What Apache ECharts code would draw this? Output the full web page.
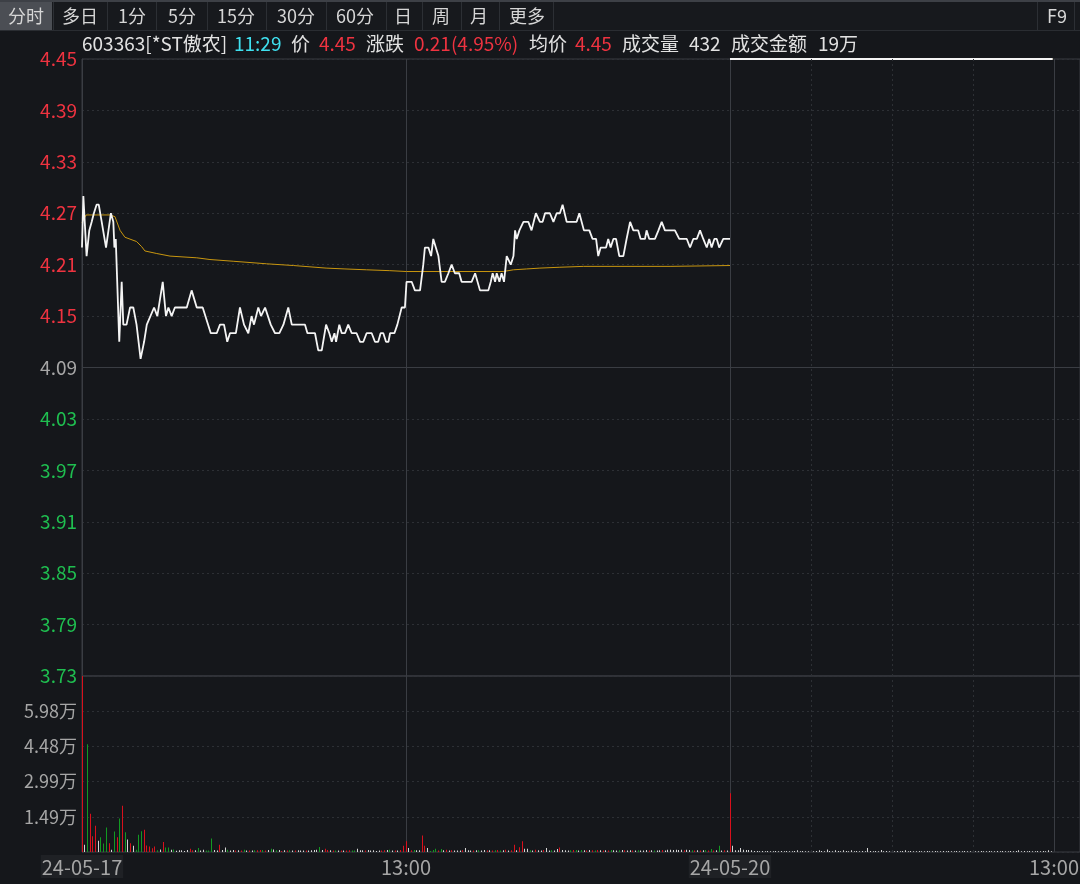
<!DOCTYPE html>
<html><head><meta charset="utf-8">
<script src="https://cdn.jsdelivr.net/npm/echarts@6/dist/echarts.min.js"></script>
<style>html,body{margin:0;padding:0;background:#15171b;}#c{width:1080px;height:884px;}</style>
</head><body><div id="c"></div><script>
// ---------- DATA ----------
const prevClose = 4.09;
const xTickLabels = ['24-05-17', '13:00', '24-05-20', '13:00'];
const volTickLabels = ['1.49万', '2.99万', '4.48万', '5.98万'];
const tabs = ['分时', '多日', '1分', '5分', '15分', '30分', '60分', '日', '周', '月', '更多'];

// day 1 price: [minute index, price]
const day1Price = [
 [0,4.23],[0.5,4.29],[1.2,4.29],[1.7,4.22],[2.2,4.22],[2.7,4.25],[3.6,4.26],[4.4,4.27],[5.4,4.28],[6.2,4.28],
 [7.3,4.26],[8.9,4.23],[9.8,4.25],[10.7,4.27],[11.6,4.26],[12,4.23],[12.5,4.24],[13.8,4.12],[14.3,4.12],[14.7,4.19],
 [15.3,4.14],[16.5,4.14],[17.8,4.16],[19,4.16],[20.2,4.14],[21.7,4.10],[23,4.12],[24,4.14],[26.7,4.16],[27.9,4.15],
 [28.6,4.15],[29.9,4.19],[31.1,4.15],[32,4.16],[33.2,4.15],[34.4,4.16],[38.8,4.16],[40.6,4.18],[42.5,4.16],[44.7,4.16],
 [47.7,4.13],[49.9,4.13],[51.1,4.14],[52.6,4.14],[53.8,4.12],[54.8,4.13],[57,4.13],[58.5,4.16],[60,4.14],[61.6,4.13],
 [62.8,4.15],[63.7,4.14],[65.3,4.16],[66.3,4.15],[67.8,4.16],[68.4,4.16],[69.9,4.14],[71.5,4.13],[73.1,4.13],[74.6,4.14],
 [76.4,4.16],[77.7,4.14],[82.6,4.14],[83.5,4.13],[86.3,4.13],[87.5,4.11],[88.8,4.11],[90.4,4.14],[91.6,4.13],[92.5,4.12],
 [93.5,4.13],[94.1,4.12],[95.3,4.14],[96.2,4.13],[97.4,4.13],[98.6,4.14],[99.9,4.13],[101.7,4.13],[103,4.12],[104.2,4.12],
 [105.4,4.13],[107.3,4.13],[108.5,4.12],[109.7,4.12],[110.6,4.13],[111.6,4.13],[112.6,4.12],[113.5,4.12],[114.1,4.13],[115.7,4.13],
 [116.8,4.14],[117.5,4.14],[118.4,4.16],[119.6,4.16],[120.2,4.19],[122.1,4.19],[123.3,4.18],[125.2,4.18],[126.4,4.21],[127,4.23],
 [128.3,4.23],[129.3,4.22],[130.1,4.24],[132,4.22],[133.2,4.19],[134.4,4.19],[135.7,4.20],[136.9,4.21],[138.1,4.20],[139.7,4.20],
 [140.6,4.19],[144.3,4.19],[145.6,4.20],[147.4,4.18],[150.5,4.18],[151.4,4.19],[152.1,4.20],[153,4.19],[153.6,4.20],[154.6,4.19],
 [155.4,4.20],[156.3,4.19],[157.3,4.22],[157.9,4.22],[158.8,4.21],[159.8,4.22],[160.4,4.25],[161,4.24],[162,4.25],[163.5,4.26],
 [165.3,4.26],[166.5,4.25],[168.1,4.27],[169.6,4.26],[170.6,4.26],[171.5,4.27],[173.3,4.27],[174.6,4.26],[175.8,4.27],[177,4.27],
 [178,4.28],[178.6,4.28],[179.5,4.26],[183.2,4.26],[184.2,4.27],[185.9,4.25],[187.9,4.25],[189.1,4.24],[190.4,4.24],[191.2,4.22],
 [192.1,4.23],[194.1,4.23],[194.9,4.24],[195.8,4.23],[196.8,4.24],[197.8,4.24],[199,4.22],[200.5,4.22],[201.7,4.24],[203,4.26],
 [204.2,4.25],[206,4.25],[206.9,4.24],[208.5,4.24],[209.1,4.25],[210.1,4.24],[212.2,4.24],[213.5,4.25],[214.7,4.26],[215.9,4.25],
 [219.6,4.25],[221.2,4.24],[224,4.24],[225.2,4.23],[226.4,4.24],[227.7,4.24],[228.9,4.25],[230.1,4.24],[231.4,4.23],[232.3,4.24],
 [233.2,4.23],[234.2,4.24],[235.1,4.24],[236,4.23],[237.5,4.24],[240,4.24]
];
// day 1 average price
const day1Avg = [
 [0,4.259],[1.5,4.268],[10.4,4.268],[12.2,4.266],[14.1,4.250],[15.9,4.242],[20.2,4.237],[22.1,4.231],[23.3,4.226],[27.7,4.223],
 [32.6,4.220],[42.5,4.218],[47.4,4.216],[56,4.214],[68.4,4.211],[78.3,4.209],[90.4,4.206],[97.4,4.205],[105.4,4.204],[114,4.203],
 [120.2,4.202],[156,4.202],[159.8,4.204],[164.7,4.205],[169.6,4.206],[177,4.207],[185.7,4.208],[217.8,4.208],[240,4.209]
];
// day 2 (limit up all morning)
const day2Price = [[240,4.45],[359.5,4.45]];
const day2Avg = [[240,4.45],[359.5,4.45]];

// volumes (万), one per minute; dir: 1 up(red) -1 down(green) 0 flat(white)
const day1Vol = [
 7.47,0.31,4.58,1.62,0.67,1.12,0.48,0.63,0.36,1.04,
 0.37,0.10,0.87,0.63,1.42,1.96,0.84,0.53,0.37,0.27,
 0.10,0.73,0.88,0.95,0.28,0.23,0.16,0.23,0.07,0.11,
 0.43,0.19,0.19,0.10,0.11,0.05,0.07,0.07,0.04,0.085,
 0.14,0.07,0.07,0.17,0.06,0.10,0.06,0.06,0.57,0.085,
 0.06,0.31,0.085,0.19,0.10,0.06,0.085,0.06,0.07,0.06,
 0.10,0.06,0.06,0.06,0.07,0.07,0.085,0.085,0.06,0.085,
 0.14,0.11,0.07,0.085,0.04,0.07,0.06,0.07,0.06,0.06,
 0.07,0.06,0.06,0.06,0.06,0.07,0.085,0.10,0.21,0.085,
 0.14,0.085,0.07,0.06,0.06,0.06,0.06,0.06,0.06,0.07,
 0.06,0.06,0.14,0.07,0.07,0.06,0.085,0.06,0.07,0.04,
 0.06,0.06,0.07,0.085,0.10,0.06,0.06,0.06,0.085,0.27,
 0.46,0.17,0.07,0.085,0.07,0.07,0.70,0.27,0.17,0.04,
 0.085,0.14,0.06,0.13,0.07,0.10,0.06,0.07,0.06,0.06,
 0.06,0.07,0.17,0.07,0.06,0.06,0.07,0.07,0.06,0.085,
 0.06,0.07,0.06,0.07,0.085,0.06,0.07,0.10,0.06,0.07,
 0.31,0.07,0.20,0.46,0.14,0.14,0.07,0.06,0.10,0.07,
 0.06,0.085,0.17,0.06,0.07,0.06,0.13,0.19,0.085,0.07,
 0.06,0.07,0.085,0.085,0.06,0.085,0.07,0.06,0.085,0.07,
 0.06,0.085,0.07,0.06,0.07,0.06,0.085,0.07,0.06,0.07,
 0.085,0.07,0.06,0.07,0.06,0.06,0.07,0.06,0.06,0.085,
 0.06,0.07,0.06,0.06,0.07,0.085,0.06,0.10,0.10,0.085,
 0.10,0.085,0.10,0.07,0.10,0.085,0.07,0.06,0.07,0.06,
 0.07,0.085,0.06,0.13,0.06,0.07,0.27,0.06,0.07,0.06
];
const day1Dir = [
 1,0,-1,1,1,1,0,-1,-1,-1,
 1,0,-1,1,-1,1,-1,0,1,0,
 -1,-1,-1,1,1,1,1,1,-1,0,
 1,-1,-1,0,-1,0,0,0,0,0,
 1,1,0,-1,0,0,-1,-1,-1,0,
 0,1,0,0,-1,0,0,1,0,1,
 -1,0,1,0,-1,1,1,-1,1,0,
 -1,0,-1,0,1,0,1,-1,0,1,
 0,0,0,1,0,0,0,0,-1,0,
 1,1,0,1,-1,0,1,0,1,1,
 -1,-1,0,0,0,1,0,0,0,0,
 0,1,1,0,-1,0,1,0,1,1,
 1,0,1,-1,0,0,1,1,0,-1,
 -1,-1,1,-1,0,1,0,1,0,0,
 0,1,0,0,0,1,0,-1,0,0,
 1,0,1,-1,1,-1,0,1,0,1,
 1,0,1,1,0,0,-1,0,1,0,
 0,1,0,0,-1,0,0,1,0,0,
 0,-1,1,-1,0,-1,0,1,0,1,
 -1,1,0,1,0,1,-1,0,0,-1,
 0,1,0,0,1,0,-1,0,0,0,
 1,0,-1,0,0,1,0,0,0,0,
 0,0,0,1,0,0,-1,1,0,1,
 0,-1,1,-1,1,0,-1,0,1,0
];
const day2Vol = [
 2.49,0.27,0.07,0.07,0.17,0.10,0.085,0.085,0.07,0.04,
 0.04,0.03,0.04,0.03,0.04,0.03,0.03,0.04,0.03,0.04,
 0.03,0.04,0.03,0.03,0.04,0.07,0.03,0.04,0.03,0.03,
 0.04,0.03,0.04,0.07,0.04,0.03,0.11,0.04,0.03,0.07,
 0.04,0.03,0.07,0.04,0.03,0.07,0.03,0.04,0.03,0.04,
 0.03,0.17,0.04,0.03,0.04,0.03,0.085,0.03,0.04,0.03,
 0.04,0.03,0.04,0.03,0.04,0.07,0.03,0.04,0.03,0.03,
 0.04,0.03,0.03,0.04,0.03,0.03,0.04,0.03,0.03,0.04,
 0.03,0.04,0.03,0.03,0.04,0.03,0.03,0.04,0.03,0.03,
 0.04,0.03,0.03,0.04,0.03,0.03,0.04,0.03,0.03,0.04,
 0.03,0.04,0.03,0.03,0.04,0.03,0.04,0.07,0.03,0.04,
 0.03,0.04,0.03,0.03,0.04,0.03,0.04,0.03,0.07,0.03
];
const day2Dir = [
 1,0,0,0,0,0,0,0,0,0, 0,0,0,0,0,0,0,0,0,0, 0,0,0,0,0,0,0,0,0,0,
 0,0,0,0,0,0,0,0,0,0, 0,0,0,0,0,0,0,0,0,0, 0,0,0,0,0,0,0,0,0,0,
 0,0,0,0,0,0,0,0,0,0, 0,0,0,0,0,0,0,0,0,0, 0,0,0,0,0,0,0,0,0,0,
 0,0,0,0,0,0,0,0,0,0, 0,0,0,0,0,0,0,0,0,0, 0,0,0,0,0,0,0,0,0,0
];
const day2Start = 240;
const day2GridMinutes = [270, 300, 330];

// ---------- STYLE ----------
const BG = '#15171b';
const RED = '#ef3340', GREEN = '#1fbf50', GREY = '#a6a6a6';
const FONT = "'Noto Sans CJK SC','Noto Sans',sans-serif";
const SOLID = '#3a3d43', DOT = '#2d3035';
const barColor = { '1': '#d8101c', '-1': '#129a22', '0': '#d4d4d4' };

const rel = arr => arr.map(d => [d[0], +(d[1] - prevClose).toFixed(4)]);
const volData = [];
day1Vol.forEach((v, i) => volData.push([i, v, day1Dir[i]]));
day2Vol.forEach((v, i) => volData.push([day2Start + i, v, day2Dir[i]]));

// toolbar graphics
const tabDividers = [53, 107, 156, 207, 266, 326, 386, 422, 461, 499, 553];
const tabCenters = [26, 80, 132, 182, 236, 296, 355, 403, 441, 479, 527];
const graphics = [];
graphics.push({ type: 'rect', shape: { x: 0, y: 0, width: 1080, height: 30 }, style: { fill: '#17191d' }, z: 1 });
graphics.push({ type: 'rect', shape: { x: 0, y: 0, width: 1080, height: 2 }, style: { fill: '#3d4046' }, z: 2 });
graphics.push({ type: 'rect', shape: { x: 0, y: 2, width: 52, height: 28 }, style: { fill: '#4b4e54' }, z: 2 });
graphics.push({ type: 'rect', shape: { x: 0, y: 30, width: 1080, height: 1 }, style: { fill: '#2a2d32' }, z: 2 });
tabDividers.concat([1037, 1074]).forEach(x => graphics.push({ type: 'rect', shape: { x: x, y: 2, width: 1, height: 28 }, style: { fill: '#2c2f34' }, z: 2 }));
tabs.forEach((t, i) => graphics.push({ type: 'text', x: tabCenters[i], y: 16, z: 3,
  style: { text: t, fill: '#d6d6d6', fontSize: 18, fontFamily: FONT, align: 'center', verticalAlign: 'middle' } }));
graphics.push({ type: 'text', x: 1057, y: 16, z: 3, style: { text: 'F9', fill: '#d6d6d6', fontSize: 18, fontFamily: FONT, align: 'center', verticalAlign: 'middle' } });

const infoItems = [
  ['603363[*ST傲农]', 82, '#e2e2e2'], ['11:29', 234, '#3fe0ef'], ['价', 291, '#e2e2e2'], ['4.45', 319, RED],
  ['涨跌', 366, '#e2e2e2'], ['0.21(4.95%)', 414, RED], ['均价', 529, '#e2e2e2'], ['4.45', 575, RED],
  ['成交量', 622, '#e2e2e2'], ['432', 689, '#e2e2e2'], ['成交金额', 731, '#e2e2e2'], ['19万', 818, '#e2e2e2']
];
infoItems.forEach(it => graphics.push({ type: 'text', x: it[1], y: 44, z: 3,
  style: { text: it[0], fill: it[2], fontSize: 19, fontFamily: FONT, align: 'left', verticalAlign: 'middle' } }));

const XMAX = 998 / 2.7;
const dottedMarks = day2GridMinutes.map(m => ({ xAxis: m, lineStyle: { color: DOT, type: [2, 3], width: 1 } }));

const option = {
  backgroundColor: BG,
  animation: false,
  textStyle: { fontFamily: FONT },
  graphic: graphics,
  grid: [
    { left: 82, top: 59, width: 998, height: 617, containLabel: false, outerBoundsMode: 'none',
      show: true, borderColor: SOLID, borderWidth: 1, backgroundColor: 'transparent' },
    { left: 82, top: 676, width: 998, height: 176, containLabel: false, outerBoundsMode: 'none',
      show: true, borderColor: SOLID, borderWidth: 1, backgroundColor: 'transparent' }
  ],
  xAxis: [
    { type: 'value', gridIndex: 0, min: 0, max: XMAX, interval: 120,
      axisLine: { show: false }, axisTick: { show: false }, axisLabel: { show: false },
      splitLine: { show: true, lineStyle: { color: SOLID, width: 1 } } },
    { type: 'value', gridIndex: 1, min: 0, max: XMAX, interval: 120,
      axisLine: { show: false }, axisTick: { show: false },
      splitLine: { show: true, lineStyle: { color: SOLID, width: 1 } },
      axisLabel: { show: true, margin: 3, showMaxLabel: false,
        formatter: v => { const k = Math.round(v / 120); const s = xTickLabels[k] || ''; return s.indexOf('-') > 0 ? '{d|' + s + '}' : '{t|' + s + '}'; },
        rich: {
          d: { color: GREY, fontSize: 20, fontFamily: FONT, backgroundColor: '#1f2125', padding: [2, 1, 1, 1] },
          t: { color: GREY, fontSize: 20, fontFamily: FONT, padding: [2, 0, 1, 0] }
        } } }
  ],
  yAxis: [
    { type: 'value', gridIndex: 0, min: -0.36, max: 0.36, interval: 0.06,
      axisLine: { show: true, lineStyle: { color: SOLID } }, axisTick: { show: false },
      splitLine: { show: true, lineStyle: { color: DOT, type: [2, 3], width: 1 } },
      axisLabel: { margin: 5, showMinLabel: true, showMaxLabel: true,
        formatter: v => { const p = (prevClose + v).toFixed(2); const k = v > 0.0001 ? 'r' : (v < -0.0001 ? 'g' : 'n'); return '{' + k + '|' + p + '}'; },
        rich: {
          r: { color: RED, fontSize: 19, fontFamily: FONT },
          g: { color: GREEN, fontSize: 19, fontFamily: FONT },
          n: { color: GREY, fontSize: 19, fontFamily: FONT }
        } } },
    { type: 'value', gridIndex: 1, min: 0, max: 7.475, interval: 1.495,
      axisLine: { show: true, lineStyle: { color: SOLID } }, axisTick: { show: false },
      splitLine: { show: true, lineStyle: { color: DOT, type: [2, 3], width: 1 } },
      axisLabel: { margin: 5, color: GREY, fontSize: 18, fontFamily: FONT, showMinLabel: false, showMaxLabel: false,
        formatter: v => { const k = Math.round(v / 1.495); return (k >= 1 && k <= 4) ? volTickLabels[k - 1] : ''; } } }
  ],
  series: [
    { type: 'line', xAxisIndex: 0, yAxisIndex: 0, data: rel(day1Avg), symbol: 'none', silent: true,
      lineStyle: { color: '#c8960f', width: 1 }, z: 3,
      markLine: { silent: true, symbol: 'none', label: { show: false },
        data: [{ yAxis: 0, lineStyle: { color: SOLID, type: 'solid', width: 1 } }].concat(dottedMarks) } },
    { type: 'line', xAxisIndex: 0, yAxisIndex: 0, data: rel(day1Price), symbol: 'none', silent: true,
      lineStyle: { color: '#f4f4f4', width: 1.8 }, z: 4 },
    { type: 'line', xAxisIndex: 0, yAxisIndex: 0, data: rel(day2Avg), symbol: 'none', silent: true, clip: false,
      lineStyle: { color: '#c8960f', width: 1 }, z: 3 },
    { type: 'line', xAxisIndex: 0, yAxisIndex: 0, data: rel(day2Price), symbol: 'none', silent: true, clip: false,
      lineStyle: { color: '#f4f4f4', width: 2 }, z: 4 },
    { type: 'custom', xAxisIndex: 1, yAxisIndex: 1, data: volData, silent: true, z: 3,
      encode: { x: 0, y: 1 },
      renderItem: (params, api) => {
        const top = api.coord([api.value(0), api.value(1)]);
        const base = api.coord([api.value(0), 0]);
        return { type: 'rect',
          shape: { x: Math.floor(top[0]), y: top[1], width: 1, height: base[1] - top[1] },
          style: { fill: barColor[api.value(2)] } };
      } },
    { type: 'line', xAxisIndex: 1, yAxisIndex: 1, data: [[0, 0], [XMAX, 0]], symbol: 'none', silent: true,
      lineStyle: { opacity: 0 }, z: 2,
      markLine: { silent: true, symbol: 'none', label: { show: false }, data: dottedMarks } }
  ]
};
const chart = echarts.init(document.getElementById('c'), null, { renderer: 'canvas' });
chart.setOption(option);
</script></body></html>
